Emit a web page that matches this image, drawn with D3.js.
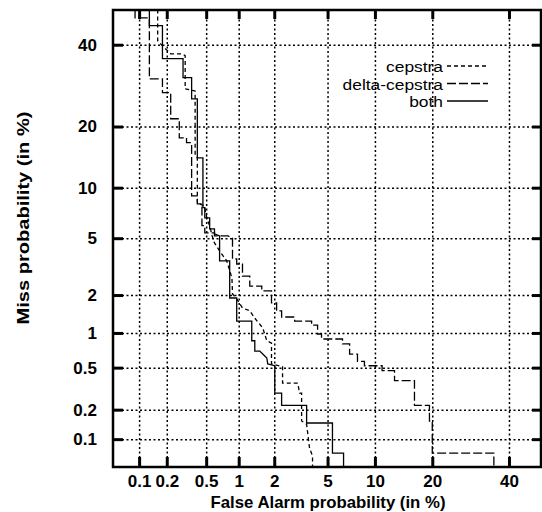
<!DOCTYPE html>
<html>
<head>
<meta charset="utf-8">
<script src="https://cdn.jsdelivr.net/npm/d3@7"></script>
<style>
  body { margin: 0; background: #fff; }
  svg { display: block; font-family: "Liberation Sans", Arial, Helvetica, sans-serif; }
</style>
</head>
<body>
<svg id="chart" width="542" height="512"></svg>
<script>
// tick positions (in %) and their labels
const xTicks = [0.1, 0.2, 0.5, 1, 2, 5, 10, 20, 40];
const xTickLabels = ["0.1", "0.2", "0.5", "1", "2", "5", "10", "20", "40"];
const yTicks = [0.1, 0.2, 0.5, 1, 2, 5, 10, 20, 40];
const yTickLabels = ["0.1", "0.2", "0.5", "1", "2", "5", "10", "20", "40"];

// [false alarm %, miss %] vertices of each DET curve
const cepstra = [
  [0.16, 50], [0.16, 41.1], [0.18, 39.7], [0.22, 37.5], [0.29, 37.5], [0.31, 37.0],
  [0.31, 28.4], [0.39, 27.9], [0.39, 14.6], [0.41, 14.3], [0.41, 8.2], [0.48, 7.9],
  [0.51, 6.6], [0.54, 6.0], [0.57, 5.17], [0.6, 4.66], [0.67, 4.12], [0.78, 3.53],
  [0.87, 2.67], [0.88, 2.04], [0.96, 1.87], [1.08, 1.59], [1.25, 1.51], [1.38, 1.32],
  [1.61, 1.10], [1.74, 0.86], [1.90, 0.82], [1.90, 0.54], [2.33, 0.51], [2.33, 0.36],
  [3.05, 0.36], [3.15, 0.29], [3.26, 0.29], [3.26, 0.154], [3.55, 0.143], [3.73, 0.080],
  [3.92, 0.066], [3.92, 0.05]
];
const deltaCepstra = [
  [0.09, 50], [0.09, 47.6], [0.13, 47.6], [0.13, 30.9], [0.18, 30.9], [0.18, 27.5],
  [0.22, 27.5], [0.22, 21.6], [0.27, 21.6], [0.27, 17.8], [0.32, 17.8], [0.32, 16.9],
  [0.36, 16.9], [0.36, 9.0], [0.41, 9.0], [0.41, 8.1], [0.455, 8.1], [0.455, 6.0],
  [0.485, 6.0], [0.485, 5.4], [0.6, 5.4], [0.6, 5.17], [0.8, 5.17], [0.88, 5.0],
  [0.88, 3.64], [0.96, 3.64], [0.96, 3.36], [1.08, 3.36], [1.08, 2.76], [1.25, 2.76],
  [1.25, 2.33], [1.58, 2.33], [1.58, 2.15], [1.90, 2.15], [1.90, 1.74], [2.09, 1.74],
  [2.09, 1.51], [2.29, 1.51], [2.29, 1.35], [2.89, 1.35], [2.89, 1.25], [3.86, 1.25],
  [3.86, 1.16], [4.26, 1.16], [4.26, 0.98], [4.54, 0.98], [4.54, 0.89], [6.3, 0.89],
  [6.3, 0.81], [7.0, 0.81], [7.0, 0.66], [7.85, 0.66], [7.85, 0.57], [8.66, 0.57],
  [8.66, 0.52], [11.0, 0.52], [11.0, 0.47], [12.9, 0.47], [12.9, 0.38], [16.4, 0.38],
  [16.4, 0.22], [19.4, 0.22], [19.4, 0.154], [20.0, 0.154], [20.0, 0.071], [35.6, 0.071],
  [35.6, 0.05]
];
const both = [
  [0.13, 50], [0.13, 45.4], [0.18, 45.4], [0.18, 36.2], [0.295, 36.2], [0.295, 31.2],
  [0.36, 31.2], [0.36, 26.0], [0.41, 26.0], [0.41, 14.3], [0.465, 14.3], [0.465, 7.7],
  [0.485, 7.7], [0.485, 6.7], [0.54, 6.7], [0.54, 5.73], [0.6, 5.73], [0.6, 5.33],
  [0.67, 5.17], [0.67, 3.53], [0.83, 3.53], [0.83, 1.90], [0.96, 1.90], [0.96, 1.25],
  [1.30, 1.25], [1.30, 0.86], [1.38, 0.86], [1.38, 0.70], [1.52, 0.70], [1.61, 0.66],
  [1.74, 0.61], [1.77, 0.54], [2.02, 0.52], [2.02, 0.29], [2.29, 0.29], [2.29, 0.22],
  [3.55, 0.22], [3.55, 0.147], [5.4, 0.147], [5.4, 0.071], [6.4, 0.071], [6.4, 0.05]
];

const seriesNames = ["cepstra", "delta-cepstra", "both"];
const seriesData = [cepstra, deltaCepstra, both];
const seriesDash = ["4,3", "9,3", null];

// inverse normal CDF (Acklam), DET plots use normal deviate axes
function probit(p) {
  const a = [-39.69683028665376, 220.9460984245205, -275.9285104469687, 138.3577518672690, -30.66479806614716, 2.506628277459239];
  const b = [-54.47609879822406, 161.5858368580409, -155.6989798598866, 66.80131188771972, -13.28068155288572];
  const c = [-0.007784894002430293, -0.3223964580411365, -2.400758277161838, -2.549732539343734, 4.374664141464968, 2.938163982698783];
  const d = [0.007784695709041462, 0.3224671290700398, 2.445134137142996, 3.754408661907416];
  const pl = 0.02425;
  if (p < pl) {
    const q = Math.sqrt(-2 * Math.log(p));
    return (((((c[0]*q+c[1])*q+c[2])*q+c[3])*q+c[4])*q+c[5]) / ((((d[0]*q+d[1])*q+d[2])*q+d[3])*q+1);
  }
  if (p <= 1 - pl) {
    const q = p - 0.5, r = q * q;
    return (((((a[0]*r+a[1])*r+a[2])*r+a[3])*r+a[4])*r+a[5])*q / (((((b[0]*r+b[1])*r+b[2])*r+b[3])*r+b[4])*r+1);
  }
  const q = Math.sqrt(-2 * Math.log(1 - p));
  return -(((((c[0]*q+c[1])*q+c[2])*q+c[3])*q+c[4])*q+c[5]) / ((((d[0]*q+d[1])*q+d[2])*q+d[3])*q+1);
}

const plotLeft = 113, plotRight = 541, plotTop = 10, plotBottom = 467;
const zMin = probit(0.0005), zMax = probit(0.5);

const xz = d3.scaleLinear().domain([zMin, zMax]).range([plotLeft, plotRight + 1]);
const yz = d3.scaleLinear().domain([zMin, zMax]).range([plotBottom, plotTop - 0.5]);
const xVals = xTicks.map(t => probit(t / 100));
const yVals = yTicks.map(t => probit(t / 100));

const svg = d3.select("#chart");

// dotted grid
svg.append("g")
  .attr("class", "grid")
  .attr("transform", "translate(0," + plotBottom + ")")
  .call(d3.axisBottom(xz).tickValues(xVals).tickSize(-(plotBottom - plotTop)).tickFormat(""))
  .call(g => g.select(".domain").remove());
svg.append("g")
  .attr("class", "grid")
  .attr("transform", "translate(" + plotLeft + ",0)")
  .call(d3.axisLeft(yz).tickValues(yVals).tickSize(-(plotRight - plotLeft)).tickFormat(""))
  .call(g => g.select(".domain").remove());
svg.selectAll("g.grid .tick line")
  .attr("stroke", "#000")
  .attr("stroke-width", 1.5)
  .attr("stroke-dasharray", "2,2.5");

// curves
svg.append("clipPath").attr("id", "plot-clip")
  .append("rect")
  .attr("x", plotLeft).attr("y", plotTop)
  .attr("width", plotRight - plotLeft).attr("height", plotBottom - plotTop);

const line = d3.line()
  .x(d => xz(probit(d[0] / 100)))
  .y(d => yz(probit(d[1] / 100)));

svg.append("g")
  .attr("clip-path", "url(#plot-clip)")
  .selectAll("path")
  .data(seriesData)
  .join("path")
  .attr("d", line)
  .attr("fill", "none")
  .attr("stroke", "#000")
  .attr("stroke-width", 1.3)
  .attr("stroke-dasharray", (d, i) => seriesDash[i]);

// frame
svg.append("rect")
  .attr("x", plotLeft).attr("y", plotTop)
  .attr("width", plotRight - plotLeft).attr("height", plotBottom - plotTop)
  .attr("fill", "none")
  .attr("stroke", "#000")
  .attr("stroke-width", 2.5);

// tick marks + labels
const tickStyle = g => {
  g.select(".domain").remove();
  g.selectAll(".tick line").attr("stroke", "#000").attr("stroke-width", 3);
  g.selectAll(".tick text")
    .attr("fill", "#000")
    .style("font-size", "17px")
    .style("font-weight", "bold")
    .style("font-family", "'Liberation Sans', Arial, sans-serif");
};

svg.append("g")
  .attr("transform", "translate(0," + plotBottom + ")")
  .call(d3.axisBottom(xz).tickValues(xVals).tickFormat((d, i) => xTickLabels[i])
    .tickSizeInner(-10).tickSizeOuter(0).tickPadding(8))
  .call(tickStyle);
svg.append("g")
  .attr("transform", "translate(0," + plotTop + ")")
  .call(d3.axisTop(xz).tickValues(xVals).tickFormat("").tickSizeInner(-9).tickSizeOuter(0))
  .call(tickStyle);
svg.append("g")
  .attr("transform", "translate(" + plotLeft + ",0)")
  .call(d3.axisLeft(yz).tickValues(yVals).tickFormat((d, i) => yTickLabels[i])
    .tickSizeInner(-10).tickSizeOuter(0).tickPadding(16))
  .call(tickStyle);
svg.append("g")
  .attr("transform", "translate(" + plotRight + ",0)")
  .call(d3.axisRight(yz).tickValues(yVals).tickFormat("").tickSizeInner(-9).tickSizeOuter(0))
  .call(tickStyle);

// axis titles
svg.append("text")
  .attr("x", 328).attr("y", 508)
  .attr("text-anchor", "middle")
  .attr("textLength", 235).attr("lengthAdjust", "spacingAndGlyphs")
  .style("font-size", "16.5px").style("font-weight", "bold")
  .text("False Alarm probability (in %)");
svg.append("text")
  .attr("transform", "translate(29,218) rotate(-90)")
  .attr("text-anchor", "middle")
  .attr("textLength", 213).attr("lengthAdjust", "spacingAndGlyphs")
  .style("font-size", "16px").style("font-weight", "bold")
  .text("Miss probability (in %)");

// legend
const legend = svg.append("g")
  .selectAll("g")
  .data(seriesNames)
  .join("g")
  .attr("transform", (d, i) => "translate(0," + (72 + i * 17.5) + ")");
legend.append("text")
  .attr("x", 443)
  .attr("text-anchor", "end")
  .style("font-size", "15.5px")
  .text(d => d)
  .each(function () {
    // the scan is a little wider than the font, stretch to match
    const w = this.getComputedTextLength();
    d3.select(this).attr("textLength", w * 1.12).attr("lengthAdjust", "spacingAndGlyphs");
  });
legend.append("line")
  .attr("x1", 447).attr("x2", 488)
  .attr("y1", -6).attr("y2", -6)
  .attr("stroke", "#000")
  .attr("stroke-width", 1.3)
  .attr("stroke-dasharray", (d, i) => seriesDash[i]);
</script>
</body>
</html>
